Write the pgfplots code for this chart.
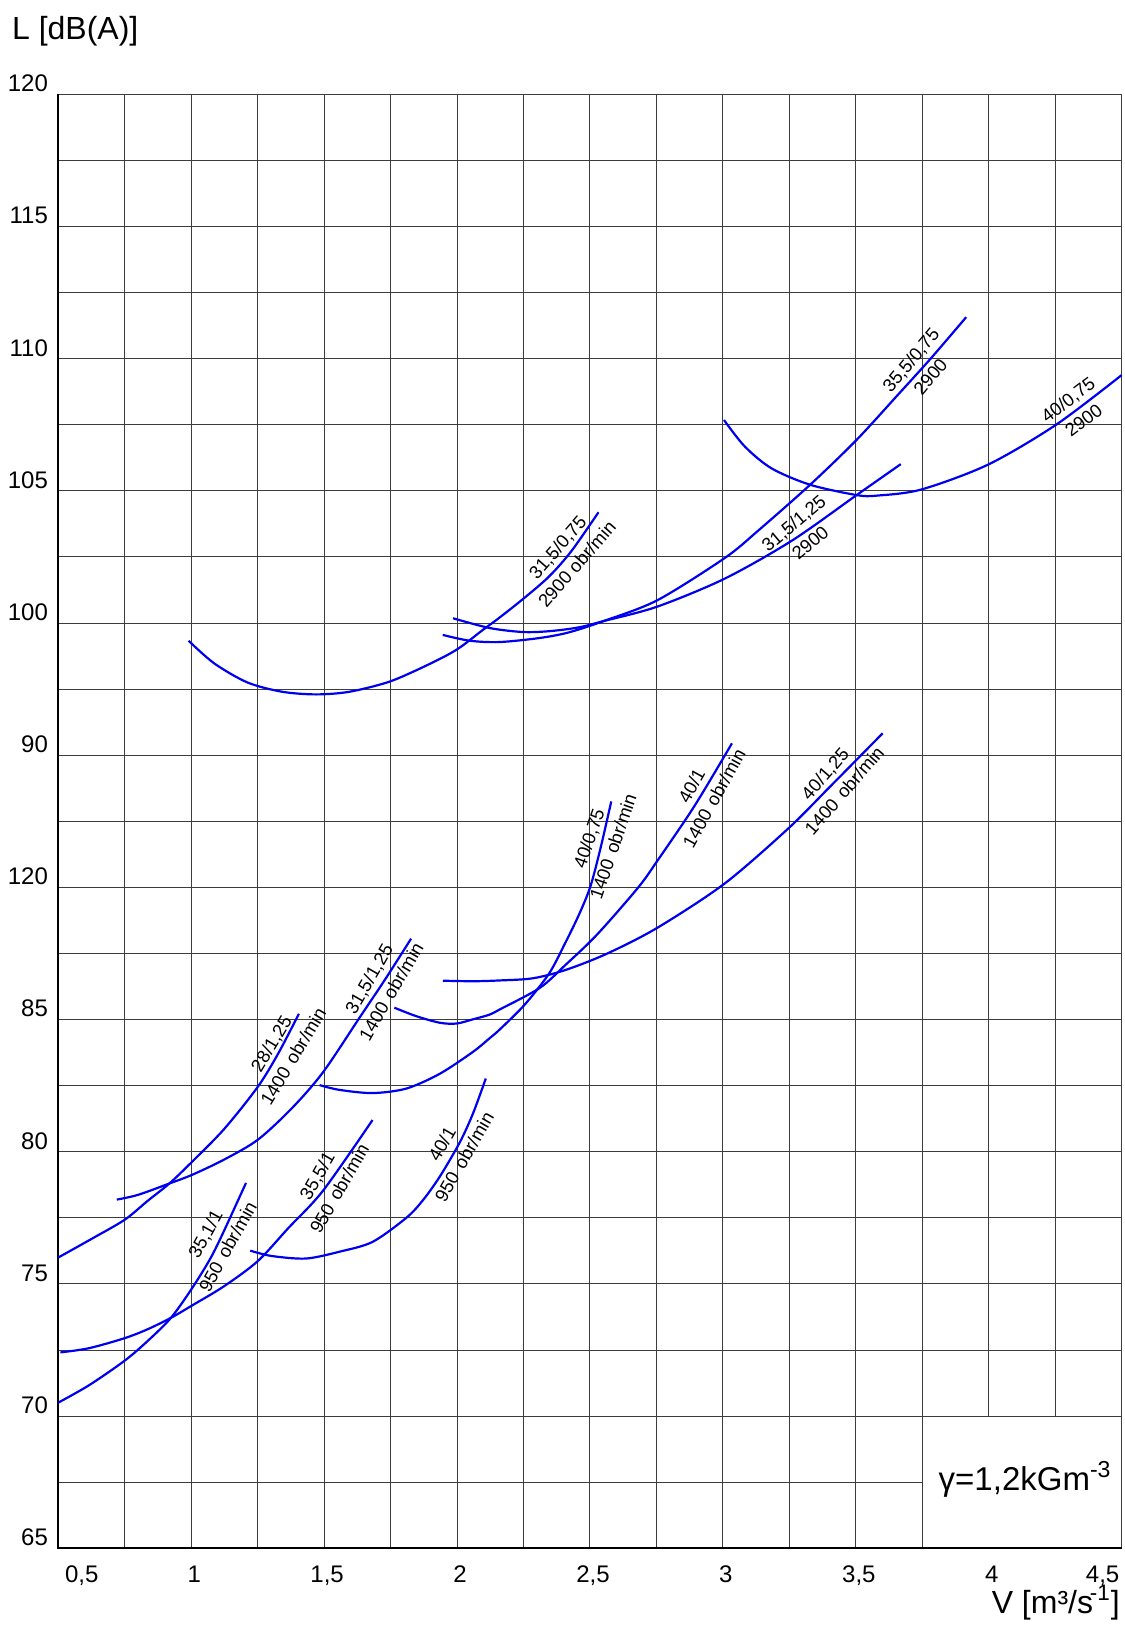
\documentclass[border=0pt]{standalone}
\usepackage{fontspec}
\setmainfont{Liberation Sans}
\usepackage{pgfplots}
\pgfplotsset{compat=1.18}
\definecolor{curveblue}{RGB}{0,0,240}
\definecolor{gridgray}{RGB}{60,60,60}
\tikzset{
  curve/.style={curveblue, line width=1.1pt, smooth},
  curvelabel/.style={font={\fontsize{9.2}{12.8}\selectfont}, align=center, inner sep=0pt, text=black},
}

\begin{document}
\begin{tikzpicture}
\begin{axis}[
  at={(0pt,0pt)}, anchor=south west,
  scale only axis, width=531.7pt, height=727pt,
  xmin=0.5, xmax=4.5, ymin=65, ymax=120,
  xtick={0.577,1,1.5,2,2.5,3,3.5,4,4.417},
  xticklabels={{0,5},1,{1,5},2,{2,5},3,{3,5},4,{4,5}},
  ytick={65,70,75,80,85,90,95,100,105,110,115,120},
  yticklabels={65,70,75,80,85,120,90,100,105,110,115,120},
  minor xtick={0.75,1,1.25,1.5,1.75,2,2.25,2.5,2.75,3,3.25,3.5,3.75,4,4.25},
  minor ytick={67.5,72.5,77.5,82.5,87.5,92.5,97.5,102.5,107.5,112.5,117.5},
  xminorgrids, ymajorgrids, yminorgrids,
  major tick length=0pt, minor tick length=0pt,
  grid style={draw=gridgray, line width=0.5pt},
  minor grid style={draw=gridgray, line width=0.5pt},
  axis line style={draw=gridgray, line width=0.5pt},
  /pgf/number format/assume math mode=true,
  tick label style={font=\fontsize{12}{14}\selectfont},
  xticklabel style={anchor=north, inner sep=0pt, yshift=-8.7pt, xshift=1.5pt},
  yticklabel style={anchor=base east, inner sep=0pt, xshift=-5pt, yshift=1.3pt},
  clip=false,
]

% blank corner reserved for the air density note
\fill[white] ([xshift=0.5pt,yshift=0.8pt]axis cs:3.75,65) rectangle ([xshift=-0.5pt,yshift=-0.4pt]axis cs:4.5,70);
\draw[black, line width=1pt] (rel axis cs:0,1) -- (rel axis cs:0,0) -- (rel axis cs:1,0);

% ---- 2900 obr/min ----
% 31,5/0,75
\addplot[curve] coordinates {(0.990,99.33) (1.087,98.47) (1.212,97.75) (1.342,97.40) (1.470,97.30) (1.595,97.40) (1.745,97.78) (1.884,98.39) (1.998,98.99) (2.097,99.74) (2.159,100.20) (2.247,100.90) (2.345,101.75) (2.430,102.72) (2.532,104.19)};
% 35,5/0,75
\addplot[curve] coordinates {(1.946,99.55) (2.048,99.33) (2.159,99.28) (2.308,99.43) (2.418,99.64) (2.550,100.07) (2.753,100.86) (3.007,102.46) (3.132,103.49) (3.328,105.23) (3.503,106.93) (3.657,108.62) (3.783,110.02) (3.915,111.57)};
% 31,5/1,25
\addplot[curve] coordinates {(1.985,100.18) (2.123,99.81) (2.247,99.66) (2.345,99.69) (2.455,99.83) (2.550,100.07) (2.753,100.62) (3.007,101.68) (3.260,103.12) (3.503,104.84) (3.669,106.01)};
% 40/0,75
\addplot[curve] coordinates {(3.004,107.68) (3.082,106.68) (3.183,105.85) (3.328,105.23) (3.503,104.84) (3.580,104.82) (3.746,105.05) (3.997,105.99) (4.253,107.50) (4.500,109.38)};

% ---- 1400 obr/min ----
% 28/1,25
\addplot[curve] coordinates {(0.500,76.00) (0.628,76.72) (0.750,77.43) (0.837,78.15) (0.918,78.80) (0.998,79.57) (1.123,80.85) (1.250,82.45) (1.328,83.73) (1.405,85.22)};
% 31,5/1,25
\addplot[curve] coordinates {(0.720,78.19) (0.800,78.37) (0.918,78.80) (1.004,79.13) (1.123,79.70) (1.250,80.45) (1.379,81.65) (1.496,83.01) (1.633,85.07) (1.732,86.56) (1.827,88.06)};
% 40/0,75
\addplot[curve] coordinates {(1.483,82.52) (1.558,82.34) (1.682,82.22) (1.809,82.39) (1.935,82.95) (2.060,83.78) (2.123,84.30) (2.160,84.62) (2.254,85.56) (2.346,86.74) (2.406,87.88) (2.460,89.00) (2.502,90.05) (2.540,91.50) (2.580,93.25)};
% 40/1
\addplot[curve] coordinates {(1.764,85.45) (1.846,85.13) (1.935,84.88) (1.998,84.85) (2.060,85.01) (2.123,85.19) (2.160,85.38) (2.310,86.19) (2.406,87.05) (2.527,88.22) (2.680,89.98) (2.753,91.00) (2.893,93.08) (3.034,95.45)};
% 40/1,25
\addplot[curve] coordinates {(1.947,86.47) (2.060,86.45) (2.160,86.48) (2.284,86.56) (2.406,86.87) (2.561,87.48) (2.753,88.47) (3.007,90.15) (3.246,92.23) (3.400,93.78) (3.601,95.83)};

% ---- 950 obr/min ----
% 35,1/1
\addplot[curve] coordinates {(0.500,70.51) (0.616,71.17) (0.750,72.10) (0.837,72.85) (0.924,73.72) (1.004,74.85) (1.073,75.98) (1.123,77.00) (1.206,78.82)};
% 35,5/1
\addplot[curve] coordinates {(0.508,72.41) (0.616,72.57) (0.750,72.95) (0.837,73.29) (0.924,73.72) (1.004,74.19) (1.123,74.91) (1.250,75.86) (1.365,77.11) (1.496,78.53) (1.682,81.20)};
% 40/1
\addplot[curve] coordinates {(1.222,76.26) (1.301,76.06) (1.431,75.96) (1.558,76.22) (1.682,76.59) (1.809,77.50) (1.871,78.16) (1.935,79.06) (2.010,80.35) (2.060,81.45) (2.108,82.77)};

% curve captions
\node[curvelabel, rotate=49] at (axis cs:2.414,102.55) {31,5/0,75\\2900 obr/min};
\node[curvelabel, rotate=50] at (axis cs:3.743,109.63) {35,5/0,75\\2900};
\node[curvelabel, rotate=40] at (axis cs:3.297,103.41) {31,5/1,25\\2900};
\node[curvelabel, rotate=37] at (axis cs:4.327,108.06) {40/0,75\\2900};
\node[curvelabel, rotate=59] at (axis cs:1.342,83.85) {28/1,25\\1400\hspace{0.4em}obr/min};
\node[curvelabel, rotate=60] at (axis cs:1.710,86.30) {31,5/1,25\\1400\hspace{0.4em}obr/min};
\node[curvelabel, rotate=61] at (axis cs:1.095,76.65) {35,1/1\\950\hspace{0.4em}obr/min};
\node[curvelabel, rotate=60] at (axis cs:1.515,78.85) {35,5/1\\950\hspace{0.4em}obr/min};
\node[curvelabel, rotate=60] at (axis cs:1.985,80.05) {40/1\\950\hspace{0.4em}obr/min};
\node[curvelabel, rotate=71] at (axis cs:2.541,91.70) {40/0,75\\1400\hspace{0.4em}obr/min};
\node[curvelabel, rotate=61] at (axis cs:2.924,93.60) {40/1\\1400\hspace{0.4em}obr/min};
\node[curvelabel, rotate=49] at (axis cs:3.420,93.98) {40/1,25\\1400\hspace{0.4em}obr/min};
\end{axis}

% axis titles and density note
\node[anchor=base west, inner sep=0pt, font=\fontsize{16}{19}\selectfont] at (-23.3pt,754.5pt) {L [dB(A)]};
\node[anchor=base east, inner sep=0pt, font=\fontsize{16}{19}\selectfont] at (530.9pt,-32.35pt) {V [m³/s\kern-0.1em\textsuperscript{-1}]};
\node[anchor=base west, inner sep=0pt, font=\fontsize{16.5}{19}\selectfont] at (440pt,29.15pt) {γ=1,2kGm\textsuperscript{-3}};

\pgfresetboundingbox
\path[use as bounding box] (-29.15pt,-40.35pt) rectangle (533.35pt,774.15pt);
\end{tikzpicture}
\end{document}
